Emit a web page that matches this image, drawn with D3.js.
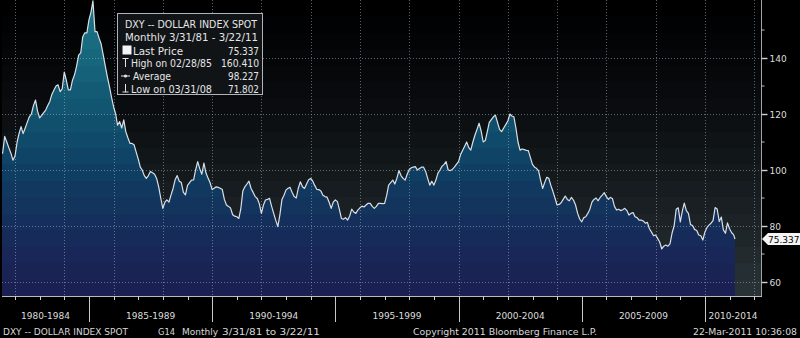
<!DOCTYPE html>
<html><head><meta charset="utf-8">
<script src="https://cdn.jsdelivr.net/npm/d3@7/dist/d3.min.js"></script>
<style>html,body{margin:0;padding:0;background:#000;overflow:hidden}svg{display:block}</style>
</head><body>
<svg id="chart" width="800" height="338"></svg>
<script>
// ---------------- DATA ----------------
const seriesStart = [1981, 3];          // first monthly observation: March 1981
const lastObservation = [2011, 3, 22];  // last point: 3/22/11
const dxy1981 = [100, 104, 106, 106, 112, 110, 108, 106, 103.5, 105];
const dxy1982 = [110, 113, 115.5, 113, 115, 117, 119, 120, 123, 125, 121, 118.6];
const dxy1983 = [119.5, 120.5, 121.4, 123, 124.5, 127, 128.6, 130, 130.4, 128, 129, 135];
const dxy1984 = [132, 128.6, 128.6, 132, 134, 137, 141, 141.8, 147.6, 149, 149, 153.6];
const dxy1985 = [156.5, 160.41, 149.4, 149.4, 147, 145, 141, 137, 133.3, 129.8, 126, 122.6];
const dxy1986 = [120, 116, 117.3, 115, 117.9, 113.7, 111.5, 109.5, 109.5, 109, 106.5, 104];
const dxy1987 = [101, 100, 98, 97, 98, 99.5, 99, 98.5, 97, 94, 90, 86.3];
const dxy1988 = [88.5, 89.3, 88.5, 91, 93.4, 96.5, 98, 96, 95.5, 92, 91.1, 94.5];
const dxy1989 = [95.5, 96.4, 96.5, 100, 103, 100.5, 98.5, 102.5, 99, 97.1, 95.5, 93];
const dxy1990 = [93.5, 94, 93.8, 93.5, 93, 89.5, 87.5, 87, 86.4, 84, 83.5, 83.3];
const dxy1991 = [82.7, 86, 92.5, 94, 95, 96, 93.4, 92, 90.5, 89.8, 88, 84.5];
const dxy1992 = [87.5, 89.3, 89.5, 89.9, 87, 84.5, 82, 79.8, 84, 89.5, 91, 92.9];
const dxy1993 = [93.5, 93.8, 92, 90.5, 90, 93.5, 95.8, 94, 93.4, 95, 96.5, 97];
const dxy1994 = [96, 94.5, 93.1, 93, 92.5, 91, 90.5, 90.3, 88.5, 86.3, 88.5, 89.3];
const dxy1995 = [88.7, 86, 82.7, 82.4, 83, 82.1, 83.5, 86, 85, 84.5, 85.7, 86.5];
const dxy1996 = [87.1, 86.8, 87.5, 88.1, 88.1, 87, 86.3, 87, 88.1, 88.1, 88, 88.1];
const dxy1997 = [91, 94.6, 95.5, 96.4, 95, 97, 99.8, 98, 97, 96.4, 98.5, 100.2];
const dxy1998 = [100.8, 101, 101.2, 100, 100.5, 101, 101, 99.5, 97, 94.6, 96, 94.6];
const dxy1999 = [96.5, 98.8, 100, 101.3, 102, 103, 100, 99.8, 100.2, 101, 102, 103];
const dxy2000 = [105.5, 107, 108.5, 110, 108, 107.1, 110, 112.5, 114.5, 116.7, 114, 110];
const dxy2001 = [110.5, 113.5, 117, 118, 119, 119.6, 117, 114.5, 113.7, 115, 116.2, 117.5];
const dxy2002 = [120, 119.3, 119, 115, 110, 107.1, 107.5, 107.3, 107, 106.9, 104.5, 102];
const dxy2003 = [101, 100.6, 99.8, 96.5, 93.4, 95.5, 97.4, 97, 94.5, 92.3, 90, 87.5];
const dxy2004 = [87.7, 88.3, 89.5, 90.7, 89.5, 89, 90.2, 89.2, 87.5, 84.5, 82.5, 81.5];
const dxy2005 = [83, 83.3, 84.5, 86, 88.5, 89.5, 90, 89, 90.2, 91, 91.9, 90.5];
const dxy2006 = [89.5, 90.2, 89.8, 87, 85.7, 86, 85.5, 85.8, 86.3, 85.5, 83.9, 84.5];
const dxy2007 = [84.8, 83.3, 83, 82.1, 82.1, 81.8, 81, 81.3, 79, 77.8, 76.5, 76.8];
const dxy2008 = [75.5, 74.3, 71.8, 72.8, 73.2, 72.8, 73.6, 77.5, 80, 86, 86.5, 81.5];
const dxy2009 = [85.5, 88.2, 85.5, 84.5, 80.5, 80.2, 78.8, 78.4, 76.8, 76.5, 75, 77.9];
const dxy2010 = [79.5, 80.3, 81, 81.9, 86.6, 86.1, 81.6, 83.2, 78.6, 77.4, 81.1, 79];
const dxy2011 = [77.6, 76.9, 75.337];

const yTickValues = [60, 80, 100, 120, 140];
const yMinorTickValues = [70, 90, 110, 130, 150];
const periodStarts = [1980, 1985, 1990, 1995, 2000, 2005, 2010];
const periodLabels = ["1980-1984", "1985-1989", "1990-1994", "1995-1999", "2000-2004", "2005-2009", "2010-2014"];
const legendTitle = ["DXY -- DOLLAR INDEX SPOT", "Monthly 3/31/81 - 3/22/11"];
const legendLabels = ["Last Price", "High on 02/28/85", "Average", "Low on 03/31/08"];
const legendValues = ["75.337", "160.410", "98.227", "71.802"];
const lastPrice = 75.337;
const lastPriceLabel = "75.337";
const footerLeft = ["DXY -- DOLLAR INDEX SPOT", "G14", "Monthly", "3/31/81 to 3/22/11"];
const footerCenter = "Copyright 2011 Bloomberg Finance L.P.";
const footerRight = "22-Mar-2011 10:36:08";

// ---------------- BUILD SERIES ----------------
const allValues = [].concat(dxy1981, dxy1982, dxy1983, dxy1984, dxy1985, dxy1986, dxy1987, dxy1988,
  dxy1989, dxy1990, dxy1991, dxy1992, dxy1993, dxy1994, dxy1995, dxy1996, dxy1997, dxy1998, dxy1999,
  dxy2000, dxy2001, dxy2002, dxy2003, dxy2004, dxy2005, dxy2006, dxy2007, dxy2008, dxy2009, dxy2010, dxy2011);
const data = allValues.map((v, i) => {
  let date = new Date(seriesStart[0], seriesStart[1] - 1 + i + 1, 0); // month end
  if (i === allValues.length - 1) date = new Date(lastObservation[0], lastObservation[1] - 1, lastObservation[2]);
  return { date, value: v };
});

// ---------------- LAYOUT ----------------
const W = 800, H = 338;
const plot = { left: 2, right: 761, top: 0, bottom: 296 };
const svg = d3.select("#chart");
const FONT = "DejaVu Sans, Verdana, sans-serif";

const x = d3.scaleTime()
  .domain([new Date(1981, 5, 21), new Date(2012, 3, 10)])
  .range([plot.left, plot.right]);
const y = d3.scaleLinear()
  .domain([55, 55 + (plot.bottom - plot.top) / 2.8])
  .range([plot.bottom, plot.top]);

svg.append("rect").attr("width", W).attr("height", H).attr("fill", "#000");

const defs = svg.append("defs");
function steppedGradient(id, colors, bands) {
  const g = defs.append("linearGradient").attr("id", id)
    .attr("gradientUnits", "userSpaceOnUse")
    .attr("x1", 0).attr("x2", 0).attr("y1", plot.top).attr("y2", plot.bottom);
  const interp = d3.piecewise(d3.interpolateRgb, colors);
  for (let b = 0; b < bands; b++) {
    const c = interp(b / (bands - 1));
    g.append("stop").attr("offset", b / bands).attr("stop-color", c);
    g.append("stop").attr("offset", (b + 1) / bands).attr("stop-color", c);
  }
}
steppedGradient("bgGrad", ["#000000", "#06080b", "#101417", "#1b2125", "#283236"], 18);
steppedGradient("areaGrad", ["#1b7284", "#186a7e", "#135c76", "#104e6c", "#0f4064", "#12335d", "#172858", "#1a2052"], 18);

defs.append("clipPath").attr("id", "plotClip").append("rect")
  .attr("x", plot.left).attr("y", plot.top)
  .attr("width", plot.right - plot.left).attr("height", plot.bottom - plot.top);

// plot background
svg.append("rect").attr("x", plot.left).attr("y", plot.top)
  .attr("width", plot.right - plot.left).attr("height", plot.bottom - plot.top)
  .attr("fill", "url(#bgGrad)");

const gPlot = svg.append("g").attr("clip-path", "url(#plotClip)");

gPlot.append("path").datum(data)
  .attr("fill", "url(#areaGrad)")
  .attr("d", d3.area().x(d => x(d.date)).y0(plot.bottom).y1(d => y(d.value)));

// gridlines
const gridYears = d3.range(1982, 2013, 2).map(yr => new Date(yr, 0, 1));
gPlot.selectAll(".vgrid").data(gridYears).enter().append("line")
  .attr("x1", d => Math.round(x(d)) + 0.5).attr("x2", d => Math.round(x(d)) + 0.5)
  .attr("y1", plot.top).attr("y2", plot.bottom)
  .attr("stroke", "#a8b0b8").attr("stroke-opacity", 0.55).attr("stroke-dasharray", "1,2");
gPlot.selectAll(".hgrid").data(yTickValues).enter().append("line")
  .attr("x1", plot.left).attr("x2", plot.right)
  .attr("y1", d => Math.round(y(d)) + 0.5).attr("y2", d => Math.round(y(d)) + 0.5)
  .attr("stroke", "#a8b0b8").attr("stroke-opacity", 0.55).attr("stroke-dasharray", "1,2");

gPlot.append("path").datum(data)
  .attr("fill", "none").attr("stroke", "#d8e0e6").attr("stroke-width", 1.2)
  .attr("stroke-linejoin", "round")
  .attr("d", d3.line().x(d => x(d.date)).y(d => y(d.value)));

// ---------------- RIGHT AXIS ----------------
const axisColor = "#a0a4a8";
const gR = svg.append("g").attr("transform", `translate(${plot.right + 0.5},0)`);
const rightAxis = d3.axisRight(y).tickValues(yTickValues).tickSize(6).tickPadding(2);
gR.call(rightAxis);
gR.select(".domain").attr("stroke", axisColor).attr("d", `M0,${plot.top}V${plot.bottom + 1}`);
gR.selectAll(".tick line").attr("stroke", "#d0d0d0").attr("stroke-width", 1.4);
gR.selectAll(".tick text").attr("fill", "#dcdcdc").attr("font-family", FONT).attr("font-size", 9).attr("dy", "0.34em");
gR.selectAll(".minor").data(yMinorTickValues).enter().append("line")
  .attr("x1", 0).attr("x2", 3).attr("y1", d => y(d)).attr("y2", d => y(d))
  .attr("stroke", "#c0c0c0");

// last price tag
const lpY = y(lastPrice);
svg.append("path")
  .attr("d", `M${plot.right + 1},${lpY} L${plot.right + 7},${lpY - 6} L${W},${lpY - 6} L${W},${lpY + 6} L${plot.right + 7},${lpY + 6} Z`)
  .attr("fill", "#f4f4f4");
svg.append("text").attr("x", plot.right + 7).attr("y", lpY + 3.5)
  .attr("font-family", FONT).attr("font-size", 9).attr("fill", "#000").text(lastPriceLabel);

// ---------------- BOTTOM AXIS ----------------
const gB = svg.append("g");
gB.append("line").attr("x1", plot.left).attr("x2", plot.right + 1)
  .attr("y1", plot.bottom + 0.5).attr("y2", plot.bottom + 0.5).attr("stroke", "#b8bcc0");
const yearTicks = d3.range(1982, 2013).map(yr => new Date(yr, 0, 1));
gB.selectAll(".ytick").data(yearTicks).enter().append("line")
  .attr("x1", d => Math.round(x(d)) + 0.5).attr("x2", d => Math.round(x(d)) + 0.5)
  .attr("y1", plot.bottom).attr("y2", plot.bottom + 4).attr("stroke", "#d0d0d0");
const sepDates = periodStarts.slice(1).map(yr => new Date(yr, 0, 1));
gB.selectAll(".sep").data(sepDates).enter().append("line")
  .attr("x1", d => Math.round(x(d)) + 0.5).attr("x2", d => Math.round(x(d)) + 0.5)
  .attr("y1", plot.bottom).attr("y2", plot.bottom + 26).attr("stroke", "#c8c8c8");
gB.selectAll(".plabel").data(periodStarts).enter().append("text")
  .attr("x", (d) => {
    const a = Math.max(plot.left, x(new Date(d, 0, 1)));
    const b = Math.min(plot.right, x(new Date(d + 5, 0, 1)));
    return (a + b) / 2;
  })
  .attr("y", 318.5).attr("text-anchor", "middle")
  .attr("font-family", FONT).attr("font-size", 9).attr("fill", "#dcdcdc")
  .text((d, i) => periodLabels[i]);

// ---------------- FOOTER ----------------
const footerX = [3, 158, 182, 222];
const footerW = [125, 17, 36, 98];
const ft = svg.append("g").attr("font-family", FONT).attr("font-size", 9).attr("fill", "#d8d8d8");
footerLeft.forEach((t, i) => {
  ft.append("text").attr("x", footerX[i]).attr("y", 335).text(t)
    .attr("textLength", footerW[i]).attr("lengthAdjust", "spacingAndGlyphs");
});
ft.append("text").attr("x", 413).attr("y", 335).text(footerCenter)
  .attr("textLength", 184).attr("lengthAdjust", "spacingAndGlyphs");
ft.append("text").attr("x", 693).attr("y", 335).text(footerRight)
  .attr("textLength", 104).attr("lengthAdjust", "spacingAndGlyphs");

// ---------------- LEGEND ----------------
const lg = svg.append("g").attr("font-family", FONT).attr("font-size", 10.5).attr("fill", "#e6e6e6");
lg.append("rect").attr("x", 117.5).attr("y", 13.5).attr("width", 145).attr("height", 81)
  .attr("fill", "#111417").attr("stroke", "#b0b4b8").attr("stroke-width", 1);
const baselines = [28, 41, 54.5, 67, 80, 92.5];
const titleW = [132, 133];
legendTitle.forEach((t, i) => {
  lg.append("text").attr("x", 125).attr("y", baselines[i]).text(t)
    .attr("textLength", titleW[i]).attr("lengthAdjust", "spacingAndGlyphs");
});
const labelX = [133, 131, 133, 131];
const labelW = [50, 81, 38, 81];
const valueW = [31, 38, 31, 31];
legendLabels.forEach((t, i) => {
  const by = baselines[i + 2];
  lg.append("text").attr("x", labelX[i]).attr("y", by).text(t)
    .attr("textLength", labelW[i]).attr("lengthAdjust", "spacingAndGlyphs");
  lg.append("text").attr("x", 259).attr("y", by).attr("text-anchor", "end").text(legendValues[i])
    .attr("textLength", valueW[i]).attr("lengthAdjust", "spacingAndGlyphs");
});
// icons
const ic = lg.append("g").attr("stroke", "#e4e4e4").attr("fill", "none");
lg.append("rect").attr("x", 122.5).attr("y", baselines[2] - 9).attr("width", 9).attr("height", 9).attr("fill", "#f4f4f4");
ic.append("path").attr("d", `M122.5,${baselines[3] - 8.5}H128.5M125.5,${baselines[3] - 8.5}V${baselines[3]}`);
ic.append("path").attr("d", `M121,${baselines[4] - 4}H130`);
lg.append("circle").attr("cx", 125.5).attr("cy", baselines[4] - 4).attr("r", 1.6).attr("fill", "#e4e4e4");
ic.append("path").attr("d", `M125.5,${baselines[5] - 8.5}V${baselines[5] - 0.5}M122.5,${baselines[5] - 0.5}H128.5`);
</script>
</body></html>
